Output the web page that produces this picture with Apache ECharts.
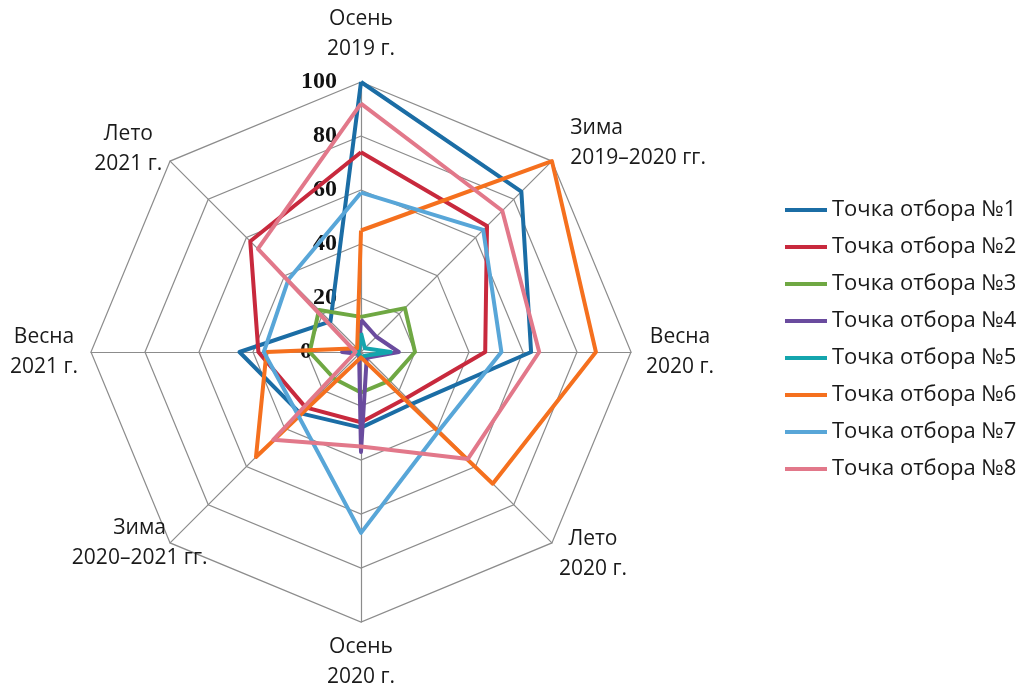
<!DOCTYPE html>
<html>
<head>
<meta charset="utf-8">
<script src="https://cdn.jsdelivr.net/npm/echarts@6/dist/echarts.min.js"></script>
<style>
  html, body { margin: 0; padding: 0; background: #fff; }
  #chart { width: 1017px; height: 690px; }
</style>
</head>
<body>
<div id="chart"></div>
<script>
// Seasons, listed clockwise from the top of the radar
const seasons = [
  'Осень\n2019 г.',
  'Зима\n2019–2020 гг.',
  'Весна\n2020 г.',
  'Лето\n2020 г.',
  'Осень\n2020 г.',
  'Зима\n2020–2021 гг.',
  'Весна\n2021 г.',
  'Лето\n2021 г.'
];

const seriesNames = [
  'Точка отбора №1', 'Точка отбора №2', 'Точка отбора №3', 'Точка отбора №4',
  'Точка отбора №5', 'Точка отбора №6', 'Точка отбора №7', 'Точка отбора №8'
];

// Values per sampling point, same season order as above
const point1 = [100, 84, 63, 27, 28, 32, 45, 16];
const point2 = [74, 66, 46, 24, 26, 29, 38, 58];
const point3 = [13, 23, 20, 15, 15, 14, 19, 22];
const point4 = [12, 8, 14, 3, 37, 1, 7, 1];
const point5 = [7, 2, 11, 2, 2, 1, 3, 1];
const point6 = [45, 100, 87, 69, 2, 55, 35, 2];
const point7 = [59, 64, 52, 41, 67, 33, 36, 38];
const point8 = [92, 74, 66, 56, 35, 46, 2, 54];

const radialTicks = [0, 20, 40, 60, 80, 100];

const colors = ['#1b6da5', '#c8293d', '#6fa843', '#6a4b9e', '#14a5ad', '#f5701e', '#58a6d8', '#e2788a'];

const allPoints = [point1, point2, point3, point4, point5, point6, point7, point8];

// Placement of each season caption around the outer ring
const captionStyle = [
  { gap: 48, align: 'center', valign: 'middle' },
  { gap: 26, align: 'left',   valign: 'middle' },
  { gap: 49, align: 'center', valign: 'middle' },
  { gap: 58, align: 'center', valign: 'bottom' },
  { gap: 40, align: 'center', valign: 'middle' },
  { gap: 43, align: 'center', valign: 'bottom' },
  { gap: 47, align: 'center', valign: 'middle' },
  { gap: 59, align: 'center', valign: 'top' }
];

// ECharts lays radar indicators out counter-clockwise; reorder so the seasons run clockwise
const order = [0, 7, 6, 5, 4, 3, 2, 1];

const font = '"Open Sans", "Noto Sans", sans-serif';
const tickFont = '"Liberation Serif", "DejaVu Serif", serif';

const indicators = order.map((k, i) => {
  const cs = captionStyle[k];
  const ind = {
    name: seasons[k],
    min: radialTicks[0],
    max: radialTicks[radialTicks.length - 1],
    nameGap: cs.gap,
    nameTextStyle: { align: cs.align, verticalAlign: cs.valign }
  };
  if (i === 0) {
    // radial scale printed along the upper axis; the origin label sits at the centre,
    // so it gets extra right padding to line up with the others
    ind.axisLabel = {
      show: true,
      fontFamily: tickFont,
      fontWeight: 'bold',
      fontSize: 24,
      color: '#111',
      align: 'right',
      alignMinLabel: 'right',
      alignMaxLabel: 'right',
      margin: 24,
      formatter: v => (v === 0 ? '{z|0}' : String(v)),
      rich: { z: { color: '#111', fontFamily: tickFont, fontWeight: 'bold', fontSize: 24, padding: [0, 25, 0, 0] } }
    };
  }
  return ind;
});

const chart = echarts.init(document.getElementById('chart'), null, { renderer: 'canvas' });

chart.setOption({
  animation: false,
  backgroundColor: '#fff',
  color: colors,
  legend: {
    orient: 'vertical',
    left: 785,
    top: 198,
    padding: 0,
    icon: 'rect',
    itemWidth: 42,
    itemHeight: 4,
    itemGap: 13,
    textStyle: { fontFamily: font, fontSize: 22, color: '#1a1a1a', lineHeight: 24 },
    data: seriesNames
  },
  radar: {
    center: [361, 352],
    radius: 270,
    startAngle: 90,
    splitNumber: radialTicks.length - 1,
    shape: 'polygon',
    indicator: indicators,
    axisName: {
      color: '#1a1a1a',
      fontFamily: font,
      fontSize: 21,
      lineHeight: 30
    },
    axisLine: { lineStyle: { color: '#8c8c8c', width: 1.2 } },
    splitLine: { lineStyle: { color: '#8c8c8c', width: 1.2 } },
    splitArea: { show: false },
    axisTick: { show: false },
    axisLabel: { show: false }
  },
  series: [{
    type: 'radar',
    symbol: 'none',
    lineStyle: { width: 4 },
    data: allPoints.map((vals, s) => ({
      name: seriesNames[s],
      value: order.map(k => vals[k]),
      lineStyle: { color: colors[s], width: 4 },
      itemStyle: { color: colors[s] }
    }))
  }]
});
</script>
</body>
</html>
